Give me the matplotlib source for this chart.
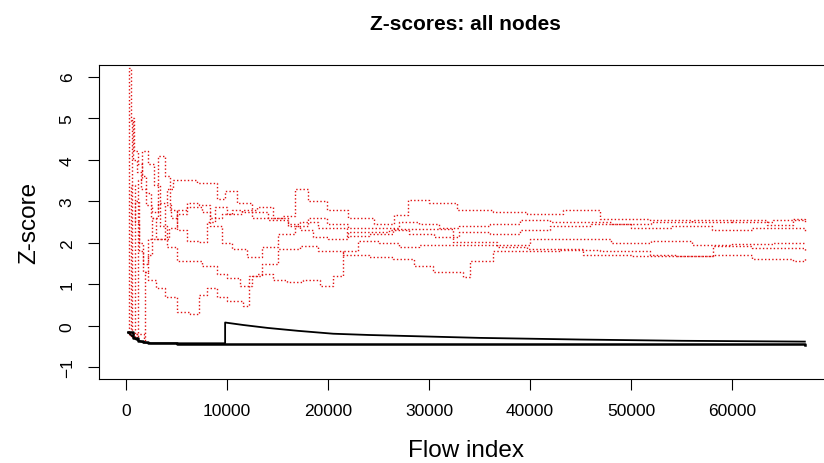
import numpy as np
import matplotlib
matplotlib.use("Agg")
import matplotlib.pyplot as plt

plt.rcParams['font.family'] = ['Liberation Sans', 'DejaVu Sans']

# total number of flows
n_flows = 67200

# black nodes (z-score vs flow index)
black1_x = [200, 700, 1200, 1700, 2200, 5000, 20000, 40000, 67200]
black1_y = [-0.14, -0.30, -0.36, -0.39, -0.42, -0.43, -0.43, -0.44, -0.45]

black2_x = [200, 1000, 1700, 2500, 9800, 9800, 11600, 14000, 17000, 20500,
            24000, 27100, 35000, 45000, 55000, 67200]
black2_y = [-0.16, -0.33, -0.40, -0.42, -0.42, 0.08, 0.02, -0.05, -0.12, -0.19,
            -0.22, -0.24, -0.29, -0.33, -0.36, -0.38]

# red nodes
red1_x = [300, 330, 500, 700, 1100, 1500, 2000, 2600, 3200, 4000, 4600, 5500, 7000,
          8200, 9000, 9800, 11000, 12500, 14000, 15500, 16700, 18000, 19900, 22000,
          24500, 26500, 27900, 30000, 32800, 36300, 39700, 43300, 46900, 51900,
          56000, 60100, 63500, 66000, 67200]
red1_y = [-0.15, 6.2, 4.9, 4.0, 3.7, 3.3, 2.9, 2.75, 2.95, 3.3, 3.5, 3.5, 3.45,
          3.45, 3.05, 3.25, 2.95, 2.75, 2.6, 2.65, 3.3, 3.0, 2.78, 2.6,
          2.46, 2.66, 3.02, 2.95, 2.78, 2.75, 2.7, 2.78, 2.58, 2.54,
          2.5, 2.54, 2.42, 2.58, 2.6]

red2_x = [300, 600, 620, 800, 1200, 1600, 2000, 2500, 3000, 3600, 4200, 5000, 6000,
          7500, 8300, 9500, 10500, 11500, 12500, 14000, 16000, 17200, 19000, 21900,
          24000, 26400, 29000, 32400, 36700, 39700, 43000, 46900, 51900, 54500,
          58100, 62000, 67200]
red2_y = [-0.2, -0.25, 5.0, 4.2, 3.9, 3.6, 3.2, 2.6, 2.1, 2.1, 2.35, 2.8, 2.85,
          2.75, 2.6, 2.7, 2.8, 2.75, 2.6, 2.55, 2.45, 2.5, 2.35, 2.17,
          2.22, 2.34, 2.34, 2.03, 1.9, 1.86, 1.82, 1.79, 1.7, 1.67,
          1.93, 1.88, 1.8]

red3_x = [300, 1100, 1150, 1600, 2200, 2800, 3400, 4000, 5000, 6500, 7500, 9000,
          10000, 11300, 12500, 13500, 15000, 17200, 19000, 21500, 24000, 26400,
          28500, 30400, 33400, 34000, 36300, 40000, 43000, 45200, 50000, 55000,
          58100, 62000, 66000, 67200]
red3_y = [-0.2, -0.3, 3.5, 4.2, 3.9, 3.4, 2.4, 1.9, 1.55, 1.55, 1.45, 1.25,
          1.15, 0.97, 1.2, 1.5, 1.85, 1.93, 1.8, 1.7, 1.65, 1.62,
          1.45, 1.3, 1.18, 1.55, 1.79, 1.8, 1.86, 1.7, 1.67, 1.67,
          1.7, 1.62, 1.55, 1.64]

red4_x = [300, 1800, 1850, 2200, 2600, 3200, 3800, 4300, 5000, 6000, 7100, 8000,
          8800, 10000, 11500, 13000, 14500, 16000, 17200, 18500, 20000, 22000,
          24500, 26000, 28000, 30500, 33000, 36000, 39000, 42000, 46000, 50000,
          54000, 58000, 62000, 67200]
red4_y = [-0.2, -0.38, 1.3, 1.7, 2.6, 4.1, 3.6, 2.8, 2.3, 2.05, 2.03, 2.5,
          2.85, 2.7, 2.8, 2.85, 2.6, 2.4, 2.3, 2.15, 2.1, 2.25,
          2.27, 2.3, 2.2, 2.15, 2.25, 2.2, 2.3, 2.4, 2.45, 2.35,
          2.4, 2.3, 2.35, 2.27]

red5_x = [300, 800, 850, 1300, 1700, 2200, 3000, 3800, 5000, 6300, 7200, 8000,
          9000, 10000, 11600, 12200, 13000, 14500, 15900, 17500, 19200, 20500,
          21500, 23000, 25000, 27000, 29000, 32000, 36000, 40000, 44000, 48000,
          52000, 56000, 60000, 64000, 67200]
red5_y = [-0.2, -0.3, 3.0, 2.0, 1.3, 1.1, 0.9, 0.7, 0.34, 0.29, 0.75, 0.9,
          0.7, 0.6, 0.48, 1.2, 1.25, 1.1, 1.06, 1.1, 0.97, 1.2,
          1.79, 2.05, 2.0, 1.9, 1.95, 1.95, 1.95, 2.1, 2.1, 2.0,
          2.05, 1.95, 1.98, 2.0, 1.96]

red6_x = [300, 500, 520, 900, 1300, 1700, 2200, 3400, 3800, 4400, 5000, 6000, 7200,
          8300, 9500, 10500, 12000, 13500, 15000, 16700, 18000, 19900, 22000,
          24500, 27000, 29000, 31000, 33000, 36000, 39000, 42000, 45000, 48000,
          52000, 56000, 60000, 64000, 67200]
red6_y = [-0.2, -0.25, 3.4, 2.5, 1.8, 1.5, 2.1, 2.1, 2.9, 2.6, 2.7, 2.95, 2.9,
          2.4, 2.0, 1.85, 1.65, 1.9, 2.2, 2.4, 2.6, 2.45, 2.35,
          2.35, 2.5, 2.45, 2.35, 2.4, 2.45, 2.55, 2.5, 2.5, 2.45,
          2.5, 2.55, 2.5, 2.55, 2.5]

red_x = [red1_x, red2_x, red3_x, red4_x, red5_x, red6_x]
red_y = [red1_y, red2_y, red3_y, red4_y, red5_y, red6_y]

fig = plt.figure(figsize=(8.24, 4.64), dpi=100)
ax = fig.add_axes([99 / 824, 84 / 464, 733 / 824, 314 / 464])

for xs, ys in zip(red_x, red_y):
    ax.plot(xs, ys, color='#e01010', lw=1.0, linestyle=(0, (1, 1.6)),
            drawstyle='steps-post')

ax.plot(black1_x, black1_y, color='black', lw=1.8, drawstyle='steps-post')
ax.plot(black2_x, black2_y, color='black', lw=1.3)

# R style 4% padding
pad = 0.04 * (n_flows - 1)
ax.set_xlim(1 - pad, n_flows + pad)
ax.set_ylim(-1 - 0.28, 6 + 0.28)

ax.set_xticks(np.arange(0, 60001, 10000))
ax.set_yticks(np.arange(-1, 7, 1))
ax.tick_params(direction='out', length=8, width=0.8, labelsize=12.5, pad=9.5)
for lab in ax.get_yticklabels():
    lab.set_rotation(90)
    lab.set_va('center')
for sp in ax.spines.values():
    sp.set_linewidth(0.8)

ax.set_xlabel("Flow index", fontsize=17.5)
ax.xaxis.set_label_coords(0.5, -0.19)
ax.set_ylabel("Z-score", fontsize=17.5)
ax.yaxis.set_label_coords(-0.08, 0.5)

fig.text(465.5 / 824, 1 - 24 / 464, "Z-scores: all nodes", ha='center', va='center',
         fontsize=15, fontweight='bold')

fig.savefig("out.png", dpi=100)
